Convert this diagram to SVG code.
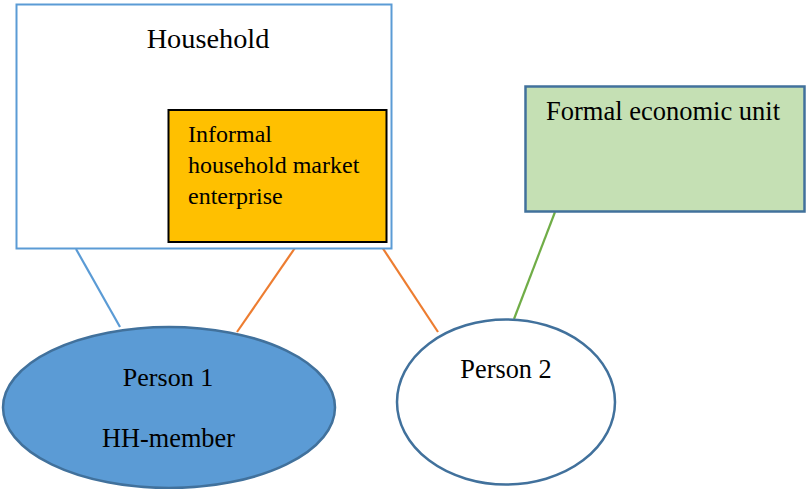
<svg xmlns="http://www.w3.org/2000/svg" width="806" height="489" viewBox="0 0 806 489">
<style>
text{font-family:"Liberation Serif","Times New Roman",serif;fill:#000}
.conn line{stroke-width:2.2;fill:none}
.blue{stroke:#5B9BD5}
.orange{stroke:#ED7D31}
.green{stroke:#70AD47}
</style>
<rect width="806" height="489" fill="#fff"/>
<g class="conn" id="connectors">
<line class="blue" x1="76" y1="249" x2="120" y2="327"/>
<line class="orange" x1="297" y1="245" x2="237" y2="332"/>
<line class="orange" x1="378" y1="241" x2="438" y2="332"/>
<line class="green" x1="555" y1="212" x2="514" y2="319"/>
</g>
<g id="household">
<rect x="16.5" y="4.5" width="375" height="244" fill="#fff" stroke="#5B9BD5" stroke-width="2"/>
<text x="208" y="48" font-size="28.3" text-anchor="middle">Household</text>
</g>
<g id="informal">
<rect x="168.5" y="110" width="218" height="132" fill="#FFC000" stroke="#000" stroke-width="2"/>
<text font-size="24"><tspan x="188" y="142">Informal</tspan><tspan x="188" y="173">household market</tspan><tspan x="188" y="204">enterprise</tspan></text>
</g>
<g id="formal">
<rect x="525.5" y="86.5" width="279" height="125" fill="#C5E0B4" stroke="#41719C" stroke-width="2.5"/>
<text x="663" y="120" font-size="26.5" text-anchor="middle">Formal economic unit</text>
</g>
<g id="person1">
<ellipse cx="169" cy="407.5" rx="166" ry="80.5" fill="#5B9BD5" stroke="#41719C" stroke-width="2.5"/>
<text x="168" y="386" font-size="26" text-anchor="middle">Person 1</text>
<text x="168.5" y="447" font-size="26.3" text-anchor="middle">HH-member</text>
</g>
<g id="person2">
<ellipse cx="506" cy="402" rx="109" ry="82.5" fill="#fff" stroke="#41719C" stroke-width="2.5"/>
<text x="506" y="378" font-size="26.3" text-anchor="middle">Person 2</text>
</g>
</svg>
